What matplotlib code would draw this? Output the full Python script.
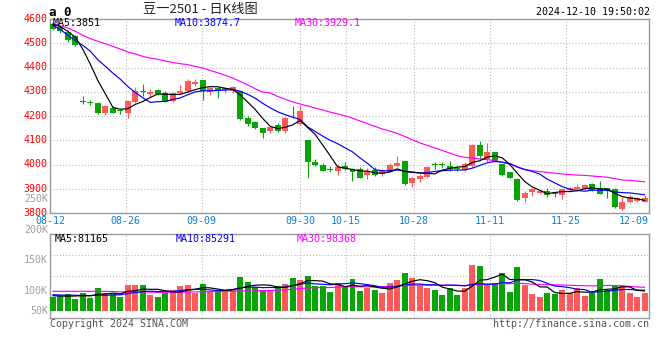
import numpy as np
import matplotlib
matplotlib.use('Agg')
import matplotlib.pyplot as plt
from matplotlib.transforms import blended_transform_factory, ScaledTranslation

# ---------------- data ----------------
tick_labels = ['08-12', '08-26', '09-09', '09-30', '10-15', '10-28', '11-11', '11-25', '12-09']
tick_index = [0, 10, 20, 33, 39, 48, 58, 68, 78]

open_ = [4579, 4566, 4546, 4528, 4262, 4257, 4255, 4215, 4233, 4224,
         4215, 4258, 4302, 4291, 4308, 4297, 4263, 4296, 4302, 4332,
         4347, 4299, 4315, 4307, 4304, 4304, 4194, 4174, 4153, 4137,
         4164, 4137, 4202, 4167, 4102, 4013, 3999, 3981, 3976, 3996,
         3983, 3983, 3958, 3979, 3961, 3972, 3996, 4017, 3924, 3941,
         3951, 4001, 4001, 3995, 3988, 3979, 3996, 4082, 4024, 4054,
         4003, 3968, 3941, 3862, 3889, 3884, 3892, 3881, 3875, 3895,
         3899, 3900, 3921, 3903, 3903, 3900, 3816, 3848, 3852, 3848]
close = [4560, 4549, 4515, 4491, 4258, 4253, 4214, 4240, 4215, 4221,
         4263, 4304, 4298, 4299, 4292, 4260, 4295, 4304, 4346, 4340,
         4302, 4315, 4302, 4315, 4318, 4187, 4168, 4150, 4131, 4157,
         4139, 4194, 4199, 4222, 4013, 4000, 3976, 3978, 3992, 3983,
         3972, 3947, 3974, 3958, 3974, 3999, 4009, 3921, 3947, 3955,
         3991, 3998, 3998, 3981, 3983, 4002, 4082, 4034, 4054, 4013,
         3958, 3947, 3855, 3882, 3900, 3892, 3875, 3879, 3900, 3903,
         3907, 3917, 3896, 3880, 3897, 3827, 3845, 3868, 3862, 3864]
high = [4583, 4570, 4550, 4535, 4285, 4267, 4258, 4247, 4240, 4230,
        4267, 4318, 4332, 4313, 4312, 4302, 4299, 4329, 4354, 4354,
        4350, 4322, 4318, 4322, 4326, 4304, 4201, 4178, 4153, 4161,
        4171, 4198, 4240, 4247, 4102, 4024, 4006, 3996, 4002, 4013,
        3985, 3990, 3985, 3992, 3983, 4006, 4036, 4020, 3951, 3961,
        3996, 4013, 4010, 4015, 3996, 4010, 4084, 4098, 4090, 4054,
        4003, 3972, 3944, 3892, 3906, 3896, 3903, 3889, 3903, 3910,
        3922, 3921, 3924, 3933, 3906, 3903, 3869, 3875, 3868, 3875]
low = [4556, 4542, 4505, 4487, 4249, 4247, 4210, 4205, 4212, 4210,
       4194, 4254, 4284, 4280, 4288, 4258, 4258, 4292, 4299, 4326,
       4267, 4288, 4274, 4295, 4295, 4183, 4161, 4146, 4112, 4130,
       4134, 4130, 4192, 4164, 3947, 3996, 3974, 3972, 3958, 3979,
       3935, 3944, 3940, 3955, 3955, 3969, 3992, 3917, 3910, 3928,
       3947, 3983, 3985, 3974, 3974, 3974, 3992, 4024, 4013, 4010,
       3955, 3944, 3851, 3845, 3873, 3881, 3869, 3869, 3859, 3889,
       3892, 3896, 3892, 3878, 3865, 3820, 3813, 3844, 3848, 3845]

# volume in thousands of lots
volume_k = [58, 61, 69, 49, 74, 54, 93, 74, 69, 58,
            106, 106, 106, 65, 58, 74, 85, 102, 106, 74,
            110, 78, 78, 78, 89, 139, 119, 99, 85, 81,
            102, 110, 135, 126, 144, 102, 102, 78, 115, 99,
            130, 81, 92, 85, 74, 115, 126, 156, 133, 106,
            95, 85, 65, 95, 65, 95, 187, 183, 109, 115,
            156, 78, 180, 106, 69, 58, 74, 69, 85, 74,
            92, 62, 72, 130, 85, 102, 102, 72, 58, 74]

# moving-average values before a full window exists
ma5_early = [4578, 4568, 4549, 4524]
ma10_early = [4574, 4556, 4533, 4511, 4491, 4467, 4432, 4405, 4377]
ma30_early = [4582, 4572, 4563, 4549, 4533, 4519, 4508, 4498, 4487, 4476,
              4464, 4456, 4446, 4439, 4434, 4427, 4421, 4416, 4412, 4405,
              4398, 4388, 4379, 4368, 4357, 4343, 4329, 4313, 4299]
vma5_early = [62, 61, 60, 61]
vma10_early = [66, 65, 64, 64, 63, 63, 64, 64, 65]
vma30_early = [80, 80, 80, 80, 80, 80, 80, 80, 79, 78,
               77, 77, 77, 77, 76, 76, 76, 77, 77, 78,
               78, 79, 79, 80, 80, 81, 82, 82, 83]

price_ma_labels = ['MA5:3851', 'MA10:3874.7', 'MA30:3929.1']
vol_ma_labels = ['MA5:81165', 'MA10:85291', 'MA30:98368']
vol_axis_labels = [250, 200, 150, 100, 50]   # K
title = '豆一2501 - 日K线图'
timestamp = '2024-12-10 19:50:02'

# ---------------- helpers ----------------
def moving(vals, n, early):
    vals = np.asarray(vals, float)
    out = np.empty(len(vals))
    for i in range(len(vals)):
        out[i] = vals[i - n + 1:i + 1].mean() if i >= n - 1 else early[i]
    return out

o = np.array(open_, float); c = np.array(close, float)
h = np.array(high, float); l = np.array(low, float)
vol = np.array(volume_k, float) * 1000
n = len(c)
x = np.arange(n)

RED = '#ff5a5a'; GREEN = '#08a508'
up = c >= o
cols = np.where(up, RED, GREEN)

W, H = 660, 360
def rect(left, top, right, bottom):
    return [left / W, 1 - bottom / H, (right - left) / W, (bottom - top) / H]

MONO = 'DejaVu Sans Mono'
FS = 7.2
FRAME = '#9a9a9a'
GRID = '#b4b4b4'
BLUE_TXT = '#0a7fd8'
LW = 0.85

fig = plt.figure(figsize=(6.6, 3.6), dpi=100)
axp = fig.add_axes(rect(50, 19, 649, 213.3))
axv = fig.add_axes(rect(50, 234.3, 649, 318))

xlim = (-0.4, n - 0.4)
tick_pos = np.array(tick_index) * n / (n - 1) - 0.4

for ax in (axp, axv):
    ax.set_xlim(*xlim)
    for s in ax.spines.values():
        s.set_color(FRAME); s.set_linewidth(1.0)
    ax.set_xticks(tick_pos[:-1])
    ax.tick_params(axis='x', length=0, labelbottom=False)
    ax.grid(True, linestyle=(0, (1, 2)), color=GRID, linewidth=0.75)
    ax.set_axisbelow(True)

# ---------------- price panel ----------------
axp.set_ylim(3800, 4600)
axp.set_yticks(np.arange(3800, 4601, 100))
axp.tick_params(axis='y', length=0, pad=2, labelcolor='#ff0000', labelsize=FS)
lift = ScaledTranslation(0, 1.5 / 100, fig.dpi_scale_trans)
for t in axp.get_yticklabels():
    t.set_family(MONO)
    t.set_transform(t.get_transform() + lift)

body_bot = np.minimum(o, c)
body_h = np.maximum(np.abs(c - o), 3)
axp.vlines(x, l, h, colors=cols, linewidth=0.8, zorder=2)
axp.bar(x, body_h, bottom=body_bot, width=0.8, color=cols, linewidth=0, zorder=3)

axp.plot(x, moving(c, 30, ma30_early), color='#ff00ff', lw=LW, zorder=4)
axp.plot(x, moving(c, 10, ma10_early), color='#0000ff', lw=LW, zorder=4)
axp.plot(x, moving(c, 5, ma5_early), color='#000000', lw=LW, zorder=5)

# date labels
tr = blended_transform_factory(axp.transData, fig.transFigure)
for pos, lab in zip(tick_pos, tick_labels):
    if pos > xlim[1] - 2:
        fig.text(xlim[1], 1 - 221 / H, lab, transform=tr, ha='right', va='center',
                 color=BLUE_TXT, fontsize=FS, family=MONO)
    else:
        fig.text(pos, 1 - 221 / H, lab, transform=tr, ha='center', va='center',
                 color=BLUE_TXT, fontsize=FS, family=MONO)

# ---------------- volume panel ----------------
k_px = 0.246 / 1000          # pixels per lot
base_px, top_px, bot_px = 311, 234.3, 318
vlo = -(bot_px - base_px) / k_px
vhi = (base_px - top_px) / k_px
axv.set_ylim(vlo, vhi)
axv.set_yticks([vlo + f * (vhi - vlo) for f in (0.25, 0.5, 0.75)])
axv.tick_params(axis='y', length=0, labelleft=False)

axv.bar(x, vol, width=0.8, color=cols, linewidth=0, zorder=3)
axv.plot(x, moving(volume_k, 30, vma30_early) * 1000, color='#ff00ff', lw=LW, zorder=4)
axv.plot(x, moving(volume_k, 10, vma10_early) * 1000, color='#0000ff', lw=LW, zorder=4)
axv.plot(x, moving(volume_k, 5, vma5_early) * 1000, color='#000000', lw=LW, zorder=5)

# volume axis labels (Sina places them on their own 50K step, clamped at the base)
for v in vol_axis_labels:
    ypx = min(290.7 - (v - 100) * 0.611, base_px)
    fig.text(48 / W, 1 - ypx / H, f'{v}K', ha='right', va='center',
             color='#a0a0a0', fontsize=FS, family=MONO)

# ---------------- texts ----------------
ma_cols = ['#000000', '#0000ff', '#ff00ff']
for lab, col, xp in zip(price_ma_labels, ma_cols, (53, 175, 295)):
    fig.text(xp / W, 1 - 23 / H, lab, color=col, fontsize=FS, family=MONO,
             ha='left', va='center', zorder=10)
for lab, col, xp in zip(vol_ma_labels, ma_cols, (55, 176, 297)):
    fig.text(xp / W, 1 - 238.5 / H, lab, color=col, fontsize=FS, family=MONO,
             ha='left', va='center', zorder=10)

fig.text(200 / W, 1 - 10 / H, title, ha='center', va='center', fontsize=9.5,
         color='#222222', family=['Noto Sans CJK SC', 'DejaVu Sans'])
fig.text(49 / W, 1 - 12 / H, 'a 0', ha='left', va='center', fontsize=9,
         fontweight='bold', family=MONO, color='#000000')
fig.text(650 / W, 1 - 12 / H, timestamp, ha='right', va='center', fontsize=FS,
         family=MONO, color='#000000')
fig.text(50 / W, 1 - 324 / H, 'Copyright 2024 SINA.COM', ha='left', va='center',
         fontsize=FS, family=MONO, color='#555555')
fig.text(649 / W, 1 - 324 / H, 'http://finance.sina.com.cn', ha='right', va='center',
         fontsize=FS, family=MONO, color='#555555')

fig.savefig('out.png', dpi=100)
